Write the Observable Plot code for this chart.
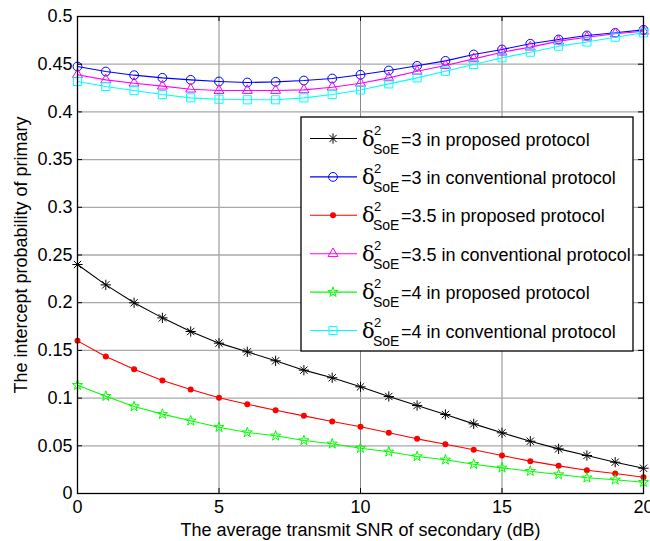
<!DOCTYPE html>
<html>
<head>
<meta charset="utf-8">
<script src="https://cdn.jsdelivr.net/npm/d3@7"></script>
<script src="https://cdn.jsdelivr.net/npm/@observablehq/plot@0.6"></script>
<style>
  html, body { margin: 0; padding: 0; background: #fff; }
  svg { display: block; }
</style>
</head>
<body>
<div id="chart"></div>
<script>
const snr = [0,1,2,3,4,5,6,7,8,9,10,11,12,13,14,15,16,17,18,19,20];
const prop3   = [0.2400,0.2187,0.1999,0.1841,0.1698,0.1576,0.1485,0.1391,0.1293,0.1213,0.1118,0.1017,0.0922,0.0828,0.0730,0.0636,0.0548,0.0468,0.0398,0.0328,0.0265];
const conv3   = [0.4476,0.4423,0.4385,0.4357,0.4336,0.4319,0.4308,0.4315,0.4329,0.4350,0.4389,0.4434,0.4483,0.4535,0.4602,0.4654,0.4714,0.4759,0.4801,0.4829,0.4860];
const prop35  = [0.1600,0.1436,0.1303,0.1184,0.1090,0.1003,0.0936,0.0873,0.0814,0.0755,0.0699,0.0636,0.0573,0.0517,0.0458,0.0398,0.0339,0.0290,0.0244,0.0210,0.0171];
const conv35  = [0.4390,0.4336,0.4300,0.4270,0.4238,0.4224,0.4224,0.4224,0.4231,0.4259,0.4300,0.4357,0.4426,0.4486,0.4556,0.4626,0.4679,0.4742,0.4783,0.4819,0.4846];
const prop4   = [0.1135,0.1020,0.0912,0.0832,0.0762,0.0695,0.0639,0.0605,0.0556,0.0521,0.0475,0.0437,0.0388,0.0353,0.0307,0.0269,0.0234,0.0199,0.0165,0.0144,0.0118];
const conv4   = [0.4319,0.4266,0.4224,0.4182,0.4147,0.4133,0.4127,0.4127,0.4147,0.4182,0.4230,0.4294,0.4357,0.4426,0.4497,0.4567,0.4626,0.4689,0.4733,0.4783,0.4829];

const xTicks = [0,5,10,15,20];
const yTicks = [0,0.05,0.1,0.15,0.2,0.25,0.3,0.35,0.4,0.45,0.5];
const yTickLabels = ["0","0.05","0.1","0.15","0.2","0.25","0.3","0.35","0.4","0.45","0.5"];

const seriesNames = ["=3 in proposed protocol","=3 in conventional protocol","=3.5 in proposed protocol","=3.5 in conventional protocol","=4 in proposed protocol","=4 in conventional protocol"];
const seriesValues = [prop3, conv3, prop35, conv35, prop4, conv4];
const seriesColors = ["#000000","#0000ff","#ff0000","#ff00ff","#00ff00","#00ffff"];
const seriesSymbols = ["asterisk","circle","dot","triangle","star","square"];

const W = 650, H = 541;
const mL = 77, mR = 7, mT = 16, mB = 48;
const frameW = W - mL - mR, frameH = H - mT - mB;
const rMap = {asterisk: 3.4, circle: 4.4, dot: 3, triangle: 3.7, square: 4.6, star: 3.2};

function rows(vals) { return snr.map((x, i) => ({x, y: vals[i]})); }

const marks = [
  Plot.ruleX(xTicks.slice(1, -1), {stroke: "#8a8a8a", strokeWidth: 1}),
  Plot.ruleY(yTicks.slice(1, -1), {stroke: "#a8a8a8", strokeWidth: 1.3}),
];

seriesValues.forEach((vals, i) => {
  const data = rows(vals);
  const c = seriesColors[i];
  const s = seriesSymbols[i];
  const r = rMap[s];
  marks.push(Plot.line(data, {x: "x", y: "y", stroke: c, strokeWidth: 1.1}));
  if (s === "asterisk") {
    marks.push(Plot.dot(data, {x: "x", y: "y", symbol: "plus", r, stroke: c, strokeWidth: 1}));
    marks.push(Plot.dot(data, {x: "x", y: "y", symbol: "times", r, stroke: c, strokeWidth: 1}));
  } else if (s === "dot") {
    marks.push(Plot.dot(data, {x: "x", y: "y", r, fill: c, stroke: "none"}));
  } else {
    marks.push(Plot.dot(data, {x: "x", y: "y", symbol: s, r, stroke: c, fill: "none", strokeWidth: 1}));
  }
});

marks.push(
  Plot.tickX(xTicks, {x: d => d, insetTop: frameH - 5, stroke: "#000"}),
  Plot.tickX(xTicks, {x: d => d, insetBottom: frameH - 5, stroke: "#000"}),
  Plot.tickY(yTicks, {y: d => d, insetRight: frameW - 5, stroke: "#000"}),
  Plot.tickY(yTicks, {y: d => d, insetLeft: frameW - 5, stroke: "#000"}),
  Plot.frame({stroke: "#000", strokeWidth: 1.3}),
  Plot.axisX({ticks: xTicks, tickSize: 0, tickPadding: 7, fontSize: 18,
    label: "The average transmit SNR of secondary (dB)", labelAnchor: "center", labelArrow: "none", labelOffset: 42}),
  Plot.axisY({ticks: yTicks, tickSize: 0, tickPadding: 5, fontSize: 18,
    tickFormat: (d) => yTickLabels[yTicks.indexOf(d)],
    label: "The intercept probability of primary", labelAnchor: "center", labelArrow: "none", labelOffset: 63})
);

const svg = Plot.plot({
  width: W, height: H,
  marginLeft: mL, marginRight: mR, marginTop: mT, marginBottom: mB,
  style: {fontFamily: "'Liberation Sans', Arial, sans-serif", fontSize: "18px", color: "#000", background: "#fff", overflow: "visible"},
  x: {domain: [0, 20]},
  y: {domain: [0, 0.5]},
  marks
});
document.getElementById("chart").append(svg);

// Legend
const g = d3.select(svg).append("g")
  .attr("font-family", "'Liberation Sans', Arial, sans-serif")
  .attr("text-anchor", "start")
  .attr("fill", "#000");
const lx0 = 301, ly0 = 117, lx1 = 633, ly1 = 351;
g.append("rect").attr("x", lx0).attr("y", ly0).attr("width", lx1 - lx0).attr("height", ly1 - ly0)
  .attr("fill", "#fff").attr("stroke", "#000").attr("stroke-width", 1.3);
const symMap = {circle: d3.symbolCircle, triangle: d3.symbolTriangle, square: d3.symbolSquare, star: d3.symbolStar};
seriesNames.forEach((name, i) => {
  const cy = 138.5 + i * 38.4;
  const c = seriesColors[i], s = seriesSymbols[i], r = rMap[s];
  g.append("line").attr("x1", 310).attr("x2", 357).attr("y1", cy).attr("y2", cy).attr("stroke", c).attr("stroke-width", 1.1);
  const mx = 333;
  if (s === "asterisk") {
    g.append("path").attr("transform", `translate(${mx},${cy})`).attr("d", d3.symbol(d3.symbolPlus, r*r*Math.PI)()).attr("fill", "none").attr("stroke", c);
    g.append("path").attr("transform", `translate(${mx},${cy})`).attr("d", d3.symbol(d3.symbolTimes, r*r*Math.PI)()).attr("fill", "none").attr("stroke", c);
  } else if (s === "dot") {
    g.append("circle").attr("cx", mx).attr("cy", cy).attr("r", r).attr("fill", c);
  } else {
    g.append("path").attr("transform", `translate(${mx},${cy})`).attr("d", d3.symbol(symMap[s], r*r*Math.PI)()).attr("fill", "none").attr("stroke", c);
  }
  const base = cy + 7;
  g.append("text").attr("x", 362).attr("y", base).attr("font-size", 21).attr("font-family", "'DejaVu Serif', serif").text("δ");
  g.append("text").attr("x", 374).attr("y", base - 11).attr("font-size", 13).text("2");
  g.append("text").attr("x", 373).attr("y", base + 8).attr("font-size", 14).text("SoE");
  g.append("text").attr("x", 401).attr("y", base).attr("font-size", 18).text(name);
});
</script>
</body>
</html>
